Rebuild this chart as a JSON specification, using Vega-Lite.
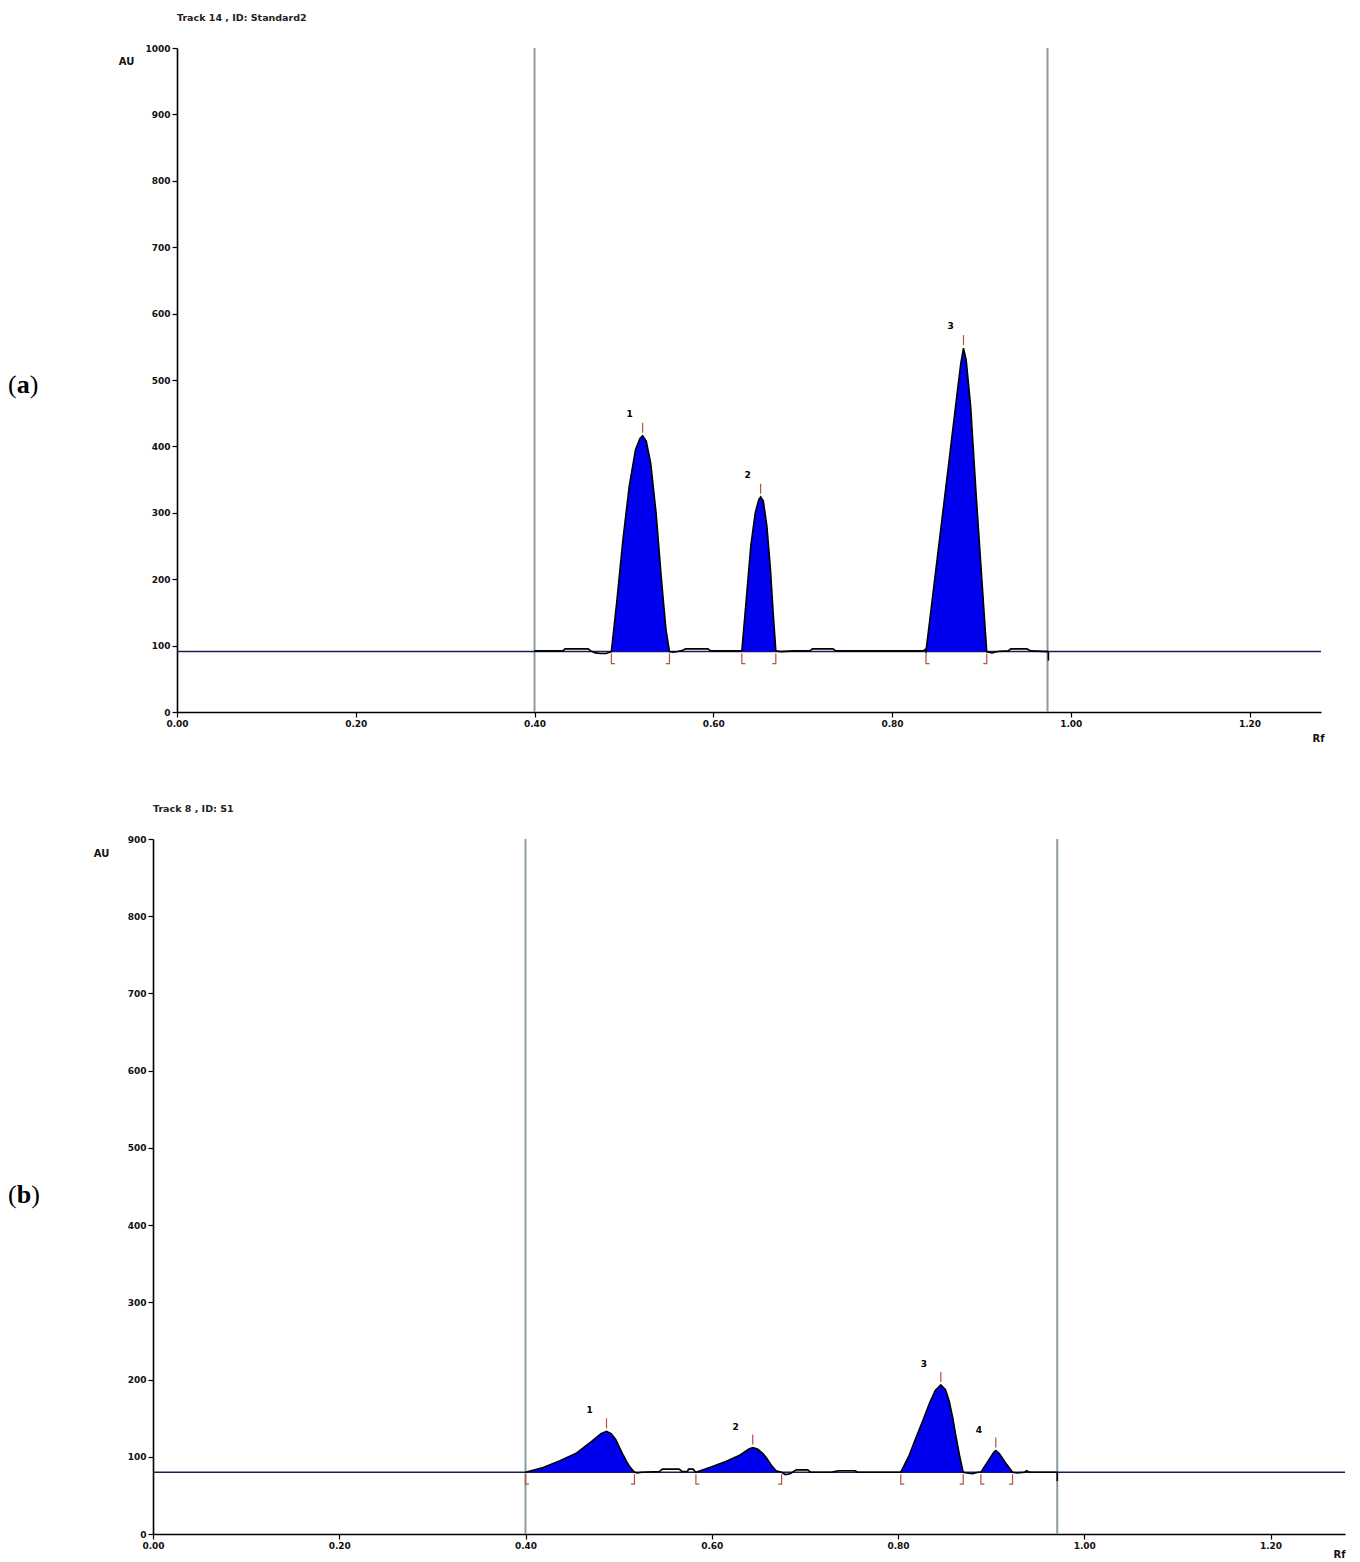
{
  "$schema": "https://vega.github.io/schema/vega-lite/v6.json",
  "background": "white",
  "padding": {"left": 8, "top": 12, "right": 0, "bottom": 0},
  "spacing": 60,
  "datasets": {
    "a_win": [{"Rf": 0.40}, {"Rf": 0.974}],
    "a_base": [{"AU": 91}],
    "a_trace": [
      {"Rf": 0.400, "AU": 92, "pk": 0}, {"Rf": 0.432, "AU": 92, "pk": 0}, {"Rf": 0.434, "AU": 95, "pk": 0},
      {"Rf": 0.460, "AU": 95, "pk": 0}, {"Rf": 0.463, "AU": 92, "pk": 0}, {"Rf": 0.468, "AU": 89, "pk": 0},
      {"Rf": 0.474, "AU": 88, "pk": 0}, {"Rf": 0.480, "AU": 88, "pk": 0}, {"Rf": 0.484, "AU": 90, "pk": 0},
      {"Rf": 0.486, "AU": 91, "pk": 1}, {"Rf": 0.492, "AU": 165, "pk": 1}, {"Rf": 0.499, "AU": 260, "pk": 1},
      {"Rf": 0.506, "AU": 340, "pk": 1}, {"Rf": 0.513, "AU": 395, "pk": 1}, {"Rf": 0.518, "AU": 412, "pk": 1},
      {"Rf": 0.521, "AU": 416, "pk": 1}, {"Rf": 0.525, "AU": 408, "pk": 1}, {"Rf": 0.530, "AU": 375, "pk": 1},
      {"Rf": 0.536, "AU": 300, "pk": 1}, {"Rf": 0.542, "AU": 200, "pk": 1}, {"Rf": 0.547, "AU": 125, "pk": 1},
      {"Rf": 0.551, "AU": 91, "pk": 1},
      {"Rf": 0.555, "AU": 90, "pk": 0}, {"Rf": 0.560, "AU": 91, "pk": 0}, {"Rf": 0.566, "AU": 93, "pk": 0},
      {"Rf": 0.569, "AU": 95, "pk": 0}, {"Rf": 0.594, "AU": 95, "pk": 0}, {"Rf": 0.597, "AU": 92, "pk": 0},
      {"Rf": 0.630, "AU": 92, "pk": 0},
      {"Rf": 0.632, "AU": 92, "pk": 2}, {"Rf": 0.637, "AU": 170, "pk": 2}, {"Rf": 0.642, "AU": 250, "pk": 2},
      {"Rf": 0.647, "AU": 300, "pk": 2}, {"Rf": 0.651, "AU": 320, "pk": 2}, {"Rf": 0.653, "AU": 324, "pk": 2},
      {"Rf": 0.656, "AU": 318, "pk": 2}, {"Rf": 0.660, "AU": 280, "pk": 2}, {"Rf": 0.664, "AU": 215, "pk": 2},
      {"Rf": 0.667, "AU": 150, "pk": 2}, {"Rf": 0.670, "AU": 92, "pk": 2},
      {"Rf": 0.675, "AU": 91, "pk": 0}, {"Rf": 0.690, "AU": 92, "pk": 0}, {"Rf": 0.708, "AU": 92, "pk": 0},
      {"Rf": 0.711, "AU": 95, "pk": 0}, {"Rf": 0.734, "AU": 95, "pk": 0}, {"Rf": 0.737, "AU": 92, "pk": 0},
      {"Rf": 0.835, "AU": 92, "pk": 0}, {"Rf": 0.837, "AU": 94, "pk": 0},
      {"Rf": 0.838, "AU": 91, "pk": 3}, {"Rf": 0.846, "AU": 180, "pk": 3}, {"Rf": 0.855, "AU": 280, "pk": 3},
      {"Rf": 0.864, "AU": 380, "pk": 3}, {"Rf": 0.872, "AU": 470, "pk": 3}, {"Rf": 0.877, "AU": 525, "pk": 3},
      {"Rf": 0.880, "AU": 548, "pk": 3}, {"Rf": 0.883, "AU": 530, "pk": 3}, {"Rf": 0.888, "AU": 460, "pk": 3},
      {"Rf": 0.894, "AU": 330, "pk": 3}, {"Rf": 0.900, "AU": 210, "pk": 3}, {"Rf": 0.904, "AU": 130, "pk": 3},
      {"Rf": 0.906, "AU": 91, "pk": 3},
      {"Rf": 0.908, "AU": 90, "pk": 0}, {"Rf": 0.912, "AU": 89, "pk": 0}, {"Rf": 0.918, "AU": 91, "pk": 0},
      {"Rf": 0.930, "AU": 92, "pk": 0}, {"Rf": 0.933, "AU": 95, "pk": 0}, {"Rf": 0.951, "AU": 95, "pk": 0},
      {"Rf": 0.955, "AU": 92, "pk": 0}, {"Rf": 0.975, "AU": 91, "pk": 0}
    ],
    "a_peaks": [
      {"peak": 1, "start": 0.486, "apex": 0.521, "end": 0.551, "height": 416},
      {"peak": 2, "start": 0.632, "apex": 0.653, "end": 0.670, "height": 324},
      {"peak": 3, "start": 0.838, "apex": 0.880, "end": 0.906, "height": 548}
    ],
    "b_win": [{"Rf": 0.40}, {"Rf": 0.971}],
    "b_base": [{"AU": 80}],
    "b_trace": [
      {"Rf": 0.400, "AU": 80, "pk": 1}, {"Rf": 0.419, "AU": 86, "pk": 1}, {"Rf": 0.437, "AU": 95, "pk": 1},
      {"Rf": 0.455, "AU": 105, "pk": 1}, {"Rf": 0.472, "AU": 121, "pk": 1}, {"Rf": 0.481, "AU": 130, "pk": 1},
      {"Rf": 0.487, "AU": 133, "pk": 1}, {"Rf": 0.492, "AU": 130, "pk": 1}, {"Rf": 0.497, "AU": 122, "pk": 1},
      {"Rf": 0.501, "AU": 112, "pk": 1}, {"Rf": 0.505, "AU": 102, "pk": 1}, {"Rf": 0.508, "AU": 95, "pk": 1},
      {"Rf": 0.512, "AU": 87, "pk": 1}, {"Rf": 0.517, "AU": 80, "pk": 1},
      {"Rf": 0.520, "AU": 79, "pk": 0}, {"Rf": 0.525, "AU": 80, "pk": 0}, {"Rf": 0.544, "AU": 81, "pk": 0},
      {"Rf": 0.547, "AU": 84, "pk": 0}, {"Rf": 0.565, "AU": 84, "pk": 0}, {"Rf": 0.568, "AU": 81, "pk": 0},
      {"Rf": 0.574, "AU": 81, "pk": 0}, {"Rf": 0.575, "AU": 84, "pk": 0}, {"Rf": 0.580, "AU": 84, "pk": 0},
      {"Rf": 0.582, "AU": 81, "pk": 0},
      {"Rf": 0.583, "AU": 80, "pk": 2}, {"Rf": 0.600, "AU": 87, "pk": 2}, {"Rf": 0.615, "AU": 94, "pk": 2},
      {"Rf": 0.630, "AU": 102, "pk": 2}, {"Rf": 0.640, "AU": 110, "pk": 2}, {"Rf": 0.644, "AU": 112, "pk": 2},
      {"Rf": 0.649, "AU": 110, "pk": 2}, {"Rf": 0.655, "AU": 104, "pk": 2}, {"Rf": 0.659, "AU": 98, "pk": 2},
      {"Rf": 0.664, "AU": 89, "pk": 2}, {"Rf": 0.669, "AU": 82, "pk": 2}, {"Rf": 0.675, "AU": 80, "pk": 2},
      {"Rf": 0.679, "AU": 77, "pk": 0}, {"Rf": 0.684, "AU": 78, "pk": 0}, {"Rf": 0.688, "AU": 81, "pk": 0},
      {"Rf": 0.691, "AU": 83, "pk": 0}, {"Rf": 0.703, "AU": 83, "pk": 0}, {"Rf": 0.706, "AU": 80, "pk": 0},
      {"Rf": 0.728, "AU": 80, "pk": 0}, {"Rf": 0.736, "AU": 82, "pk": 0}, {"Rf": 0.754, "AU": 82, "pk": 0},
      {"Rf": 0.757, "AU": 80, "pk": 0}, {"Rf": 0.800, "AU": 80, "pk": 0},
      {"Rf": 0.803, "AU": 80, "pk": 3}, {"Rf": 0.812, "AU": 102, "pk": 3}, {"Rf": 0.8194, "AU": 125, "pk": 3},
      {"Rf": 0.827, "AU": 148, "pk": 3}, {"Rf": 0.834, "AU": 170, "pk": 3}, {"Rf": 0.840, "AU": 186, "pk": 3},
      {"Rf": 0.846, "AU": 193, "pk": 3}, {"Rf": 0.851, "AU": 187, "pk": 3}, {"Rf": 0.855, "AU": 172, "pk": 3},
      {"Rf": 0.8587, "AU": 151, "pk": 3}, {"Rf": 0.862, "AU": 128, "pk": 3}, {"Rf": 0.866, "AU": 102, "pk": 3},
      {"Rf": 0.870, "AU": 80, "pk": 3},
      {"Rf": 0.874, "AU": 79, "pk": 0}, {"Rf": 0.880, "AU": 78, "pk": 0}, {"Rf": 0.886, "AU": 80, "pk": 0},
      {"Rf": 0.889, "AU": 80, "pk": 4}, {"Rf": 0.897, "AU": 95, "pk": 4}, {"Rf": 0.903, "AU": 106, "pk": 4},
      {"Rf": 0.905, "AU": 108, "pk": 4}, {"Rf": 0.909, "AU": 104, "pk": 4}, {"Rf": 0.915, "AU": 93, "pk": 4},
      {"Rf": 0.923, "AU": 80, "pk": 4},
      {"Rf": 0.928, "AU": 79, "pk": 0}, {"Rf": 0.936, "AU": 80, "pk": 0}, {"Rf": 0.938, "AU": 82, "pk": 0},
      {"Rf": 0.941, "AU": 80, "pk": 0}, {"Rf": 0.971, "AU": 80, "pk": 0}
    ],
    "b_peaks": [
      {"peak": 1, "start": 0.400, "apex": 0.487, "end": 0.517, "height": 133},
      {"peak": 2, "start": 0.583, "apex": 0.644, "end": 0.675, "height": 112},
      {"peak": 3, "start": 0.803, "apex": 0.846, "end": 0.870, "height": 193},
      {"peak": 4, "start": 0.889, "apex": 0.905, "end": 0.923, "height": 108}
    ]
  },
  "vconcat": [
    {
      "width": 1168,
      "height": 664,
      "title": {"text": "Track 14 , ID: Standard2", "anchor": "start", "frame": "group", "offset": 22, "dx": 24},
      "layer": [
        {
          "data": {"name": "a_win"},
          "mark": {"type": "rule", "color": "#8c9c9c", "strokeWidth": 2},
          "encoding": {
            "x": {"field": "Rf", "type": "quantitative",
              "scale": {"domain": [0, 1.28], "nice": false, "zero": false, "range": [24, 1168]},
              "axis": {"values": [0, 0.2, 0.4, 0.6, 0.8, 1.0, 1.2], "format": ".2f", "title": "Rf", "labelFlush": false,
                "titleX": 1165, "titleY": 26, "titleAlign": "center", "titleBaseline": "middle"}}
          }
        },
        {
          "data": {"name": "a_base"},
          "mark": {"type": "rule", "color": "#1d1d55", "strokeWidth": 1.5},
          "encoding": {
            "x": {"datum": 0},
            "x2": {"datum": 1.28},
            "y": {"field": "AU", "type": "quantitative",
              "scale": {"domain": [0, 1000], "nice": false},
              "axis": {"values": [0, 100, 200, 300, 400, 500, 600, 700, 800, 900, 1000], "format": "d", "title": "AU", "offset": -24,
                "titleAngle": 0, "titleX": -51, "titleY": 13, "titleAlign": "center", "titleBaseline": "middle"}}
          }
        },
        {
          "data": {"name": "a_trace"},
          "transform": [{"filter": "datum.pk > 0"}],
          "mark": {"type": "area", "color": "#0000ee", "opacity": 1},
          "encoding": {
            "x": {"field": "Rf", "type": "quantitative"},
            "y": {"field": "AU", "type": "quantitative"},
            "y2": {"datum": 91},
            "detail": {"field": "pk"}
          }
        },
        {
          "data": {"name": "a_trace"},
          "mark": {"type": "line", "color": "#000000", "strokeWidth": 1.6},
          "encoding": {
            "x": {"field": "Rf", "type": "quantitative"},
            "y": {"field": "AU", "type": "quantitative"}
          }
        },
        {
          "data": {"name": "a_trace"},
          "transform": [{"filter": "datum.Rf >= 0.975"}],
          "mark": {"type": "point", "shape": "M0,0V1.8", "size": 100, "filled": false, "stroke": "#000000", "strokeWidth": 1.6, "opacity": 1},
          "encoding": {
            "x": {"field": "Rf", "type": "quantitative"},
            "y": {"field": "AU", "type": "quantitative"}
          }
        },
        {
          "data": {"name": "a_peaks"},
          "mark": {"type": "point", "shape": "M0,-2.6V-0.6", "size": 100, "filled": false, "stroke": "#b5523b", "strokeWidth": 1.2, "opacity": 1},
          "encoding": {
            "x": {"field": "apex", "type": "quantitative"},
            "y": {"field": "height", "type": "quantitative"}
          }
        },
        {
          "data": {"name": "a_peaks"},
          "mark": {"type": "point", "shape": "M0,0.4V2.4H0.7", "size": 100, "filled": false, "stroke": "#b5523b", "strokeWidth": 1.2, "opacity": 1},
          "encoding": {
            "x": {"field": "start", "type": "quantitative"},
            "y": {"datum": 91}
          }
        },
        {
          "data": {"name": "a_peaks"},
          "mark": {"type": "point", "shape": "M0,0.4V2.4H-0.7", "size": 100, "filled": false, "stroke": "#b5523b", "strokeWidth": 1.2, "opacity": 1},
          "encoding": {
            "x": {"field": "end", "type": "quantitative"},
            "y": {"datum": 91}
          }
        },
        {
          "data": {"name": "a_peaks"},
          "mark": {"type": "text", "font": "DejaVu Sans", "fontWeight": "bold", "fontSize": 9, "color": "#000000", "dx": -13, "dy": -22},
          "encoding": {
            "x": {"field": "apex", "type": "quantitative"},
            "y": {"field": "height", "type": "quantitative"},
            "text": {"field": "peak"}
          }
        },
        {
          "data": {"values": [{"panel": "a"}]},
          "mark": {"type": "text", "font": "Liberation Serif", "fontSize": 26, "align": "left", "baseline": "middle", "color": "#000000"},
          "encoding": {"x": {"datum": -0.18909}, "y": {"datum": 492}, "text": {"value": "("}}
        },
        {
          "data": {"values": [{"panel": "a"}]},
          "mark": {"type": "text", "font": "Liberation Serif", "fontSize": 26, "fontWeight": "bold", "align": "left", "baseline": "middle", "color": "#000000", "dx": 8.7},
          "encoding": {"x": {"datum": -0.18909}, "y": {"datum": 492}, "text": {"field": "panel"}}
        },
        {
          "data": {"values": [{"panel": "a"}]},
          "mark": {"type": "text", "font": "Liberation Serif", "fontSize": 26, "align": "left", "baseline": "middle", "color": "#000000", "dx": 21.7},
          "encoding": {"x": {"datum": -0.18909}, "y": {"datum": 492}, "text": {"value": ")"}}
        }
      ]
    },
    {
      "width": 1192,
      "height": 695,
      "title": {"text": "Track 8 , ID: S1", "anchor": "start", "frame": "group", "offset": 22},
      "layer": [
        {
          "data": {"name": "b_win"},
          "mark": {"type": "rule", "color": "#8c9c9c", "strokeWidth": 2},
          "encoding": {
            "x": {"field": "Rf", "type": "quantitative",
              "scale": {"domain": [0, 1.28], "nice": false, "zero": false},
              "axis": {"values": [0, 0.2, 0.4, 0.6, 0.8, 1.0, 1.2], "format": ".2f", "title": "Rf", "labelFlush": false,
                "titleX": 1186, "titleY": 20, "titleAlign": "center", "titleBaseline": "middle"}}
          }
        },
        {
          "data": {"name": "b_base"},
          "mark": {"type": "rule", "color": "#1d1d55", "strokeWidth": 1.5},
          "encoding": {
            "x": {"datum": 0},
            "x2": {"datum": 1.28},
            "y": {"field": "AU", "type": "quantitative",
              "scale": {"domain": [0, 900], "nice": false},
              "axis": {"values": [0, 100, 200, 300, 400, 500, 600, 700, 800, 900], "format": "d", "title": "AU",
                "titleAngle": 0, "titleX": -52, "titleY": 14, "titleAlign": "center", "titleBaseline": "middle"}}
          }
        },
        {
          "data": {"name": "b_trace"},
          "transform": [{"filter": "datum.pk > 0"}],
          "mark": {"type": "area", "color": "#0000ee", "opacity": 1},
          "encoding": {
            "x": {"field": "Rf", "type": "quantitative"},
            "y": {"field": "AU", "type": "quantitative"},
            "y2": {"datum": 80},
            "detail": {"field": "pk"}
          }
        },
        {
          "data": {"name": "b_trace"},
          "mark": {"type": "line", "color": "#000000", "strokeWidth": 1.6},
          "encoding": {
            "x": {"field": "Rf", "type": "quantitative"},
            "y": {"field": "AU", "type": "quantitative"}
          }
        },
        {
          "data": {"name": "b_trace"},
          "transform": [{"filter": "datum.Rf >= 0.971"}],
          "mark": {"type": "point", "shape": "M0,0V1.8", "size": 100, "filled": false, "stroke": "#000000", "strokeWidth": 1.6, "opacity": 1},
          "encoding": {
            "x": {"field": "Rf", "type": "quantitative"},
            "y": {"field": "AU", "type": "quantitative"}
          }
        },
        {
          "data": {"name": "b_peaks"},
          "mark": {"type": "point", "shape": "M0,-2.6V-0.6", "size": 100, "filled": false, "stroke": "#b5523b", "strokeWidth": 1.2, "opacity": 1},
          "encoding": {
            "x": {"field": "apex", "type": "quantitative"},
            "y": {"field": "height", "type": "quantitative"}
          }
        },
        {
          "data": {"name": "b_peaks"},
          "mark": {"type": "point", "shape": "M0,0.4V2.4H0.7", "size": 100, "filled": false, "stroke": "#b5523b", "strokeWidth": 1.2, "opacity": 1},
          "encoding": {
            "x": {"field": "start", "type": "quantitative"},
            "y": {"datum": 80}
          }
        },
        {
          "data": {"name": "b_peaks"},
          "mark": {"type": "point", "shape": "M0,0.4V2.4H-0.7", "size": 100, "filled": false, "stroke": "#b5523b", "strokeWidth": 1.2, "opacity": 1},
          "encoding": {
            "x": {"field": "end", "type": "quantitative"},
            "y": {"datum": 80}
          }
        },
        {
          "data": {"name": "b_peaks"},
          "mark": {"type": "text", "font": "DejaVu Sans", "fontWeight": "bold", "fontSize": 9, "color": "#000000", "dx": -17, "dy": -21},
          "encoding": {
            "x": {"field": "apex", "type": "quantitative"},
            "y": {"field": "height", "type": "quantitative"},
            "text": {"field": "peak"}
          }
        },
        {
          "data": {"values": [{"panel": "b"}]},
          "mark": {"type": "text", "font": "Liberation Serif", "fontSize": 26, "align": "left", "baseline": "middle", "color": "#000000"},
          "encoding": {"x": {"datum": -0.15570}, "y": {"datum": 439}, "text": {"value": "("}}
        },
        {
          "data": {"values": [{"panel": "b"}]},
          "mark": {"type": "text", "font": "Liberation Serif", "fontSize": 26, "fontWeight": "bold", "align": "left", "baseline": "middle", "color": "#000000", "dx": 8.7},
          "encoding": {"x": {"datum": -0.15570}, "y": {"datum": 439}, "text": {"field": "panel"}}
        },
        {
          "data": {"values": [{"panel": "b"}]},
          "mark": {"type": "text", "font": "Liberation Serif", "fontSize": 26, "align": "left", "baseline": "middle", "color": "#000000", "dx": 23.2},
          "encoding": {"x": {"datum": -0.15570}, "y": {"datum": 439}, "text": {"value": ")"}}
        }
      ]
    }
  ],
  "config": {
    "view": {"stroke": null},
    "axis": {
      "grid": false,
      "domainColor": "#000000",
      "domainWidth": 1.6,
      "tickColor": "#000000",
      "tickWidth": 1.2,
      "tickSize": 5,
      "labelPadding": 2,
      "labelFont": "DejaVu Sans",
      "labelFontWeight": "bold",
      "labelFontSize": 9,
      "labelColor": "#111111",
      "titleFont": "DejaVu Sans",
      "titleFontWeight": "bold",
      "titleFontSize": 10,
      "titleColor": "#111111"
    },
    "title": {"font": "DejaVu Sans", "fontWeight": "bold", "fontSize": 9.5, "color": "#222222"}
  }
}
